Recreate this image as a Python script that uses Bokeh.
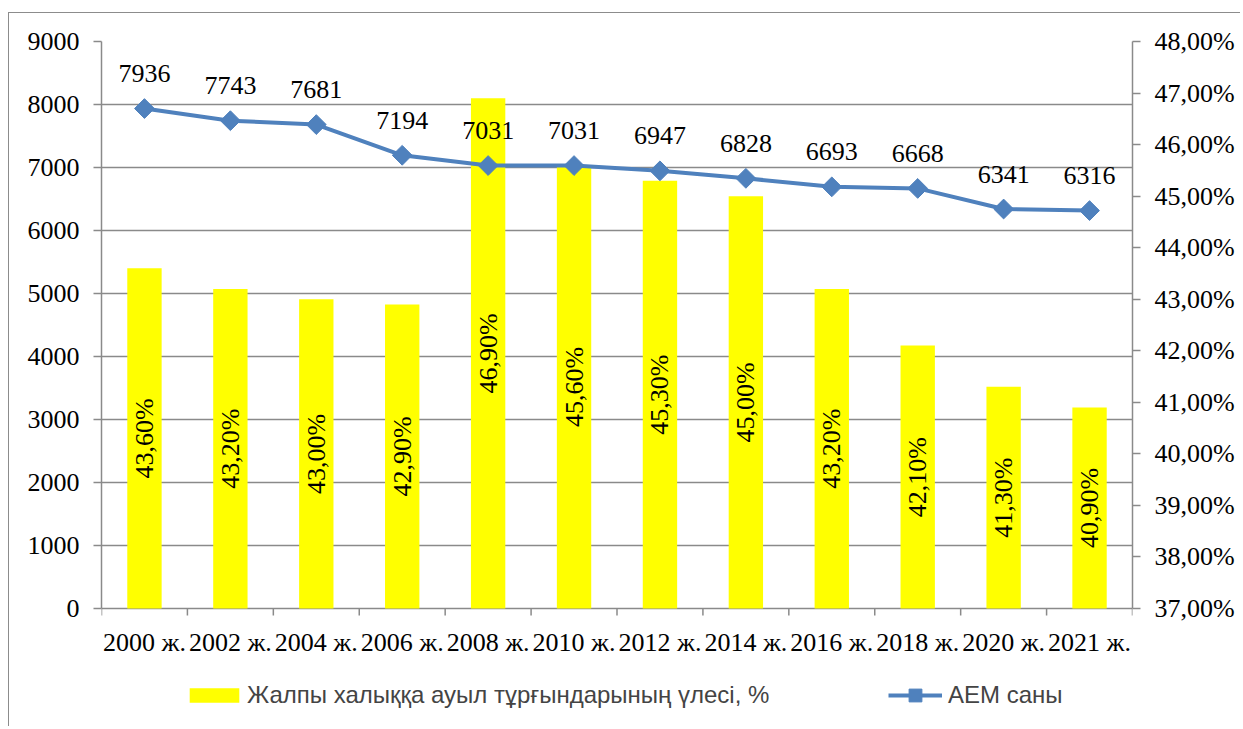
import math
from bokeh.plotting import figure
from bokeh.models import (Range1d, LinearAxis, FixedTicker, ColumnDataSource, LabelSet,
                          Legend, LegendItem)
from bokeh.core.properties import value
from bokeh.embed import file_html
from bokeh.resources import INLINE

categories = ["2000 ж.", "2002 ж.", "2004 ж.", "2006 ж.", "2008 ж.", "2010 ж.",
              "2012 ж.", "2014 ж.", "2016 ж.", "2018 ж.", "2020 ж.", "2021 ж."]
aem_count = [7936, 7743, 7681, 7194, 7031, 7031, 6947, 6828, 6693, 6668, 6341, 6316]
rural_share = [43.6, 43.2, 43.0, 42.9, 46.9, 45.6, 45.3, 45.0, 43.2, 42.1, 41.3, 40.9]
left_ticks = [0, 1000, 2000, 3000, 4000, 5000, 6000, 7000, 8000, 9000]
right_ticks = [37, 38, 39, 40, 41, 42, 43, 44, 45, 46, 47, 48]

bar_name = "Жалпы халыққа ауыл тұрғындарының үлесі, %"
line_name = "АЕМ саны"

SERIF = "Liberation Serif"
SANS = "Liberation Sans"
GRID = "#8a8a8a"
LINE = "#4F81BD"
FS = "26px"

# layout (canvas pixels)
W, H = 1232, 714
FRAME_LEFT, FRAME_RIGHT_GAP, FRAME_TOP = 92, 109, 28
ZERO_Y = 595            # canvas y of the value-axis zero line
plot_px = ZERO_Y - FRAME_TOP
below_px = H - ZERO_Y

n = len(categories)
xc = [i + 0.5 for i in range(n)]
bounds = [float(i) for i in range(n + 1)]
pct_base = right_ticks[0]

l_lo, l_hi = left_ticks[0], left_ticks[-1]
r_lo, r_hi = right_ticks[0], right_ticks[-1]
l_per_px = (l_hi - l_lo) / plot_px
r_per_px = (r_hi - r_lo) / plot_px

src = ColumnDataSource(dict(
    x=xc,
    aem=aem_count,
    aem_lbl=[str(v) for v in aem_count],
    share=rural_share,
    mid=[(pct_base + v) / 2 for v in rural_share],
    share_lbl=[f"{v:.2f}".replace(".", ",") + "%" for v in rural_share],
))
cat_src = ColumnDataSource(dict(x=xc, y=[l_lo] * n, lbl=categories))
tick_src = ColumnDataSource(dict(x=bounds, y0=[l_lo] * len(bounds),
                                 y1=[l_lo - 7 * l_per_px] * len(bounds)))

p = figure(width=W, height=H, output_backend="svg", toolbar_location=None,
           x_axis_location=None,
           x_range=Range1d(0, n), y_range=Range1d(l_lo - below_px * l_per_px, l_hi),
           min_border_left=FRAME_LEFT, min_border_right=FRAME_RIGHT_GAP,
           min_border_top=FRAME_TOP, min_border_bottom=0)
p.margin = (12, 0, 0, 8)
p.styles = {"border-left": "1px solid #8c8c8c", "border-top": "1px solid #8c8c8c"}
p.extra_y_ranges = {"pct": Range1d(r_lo - below_px * r_per_px, r_hi)}
p.outline_line_color = None
p.background_fill_color = "white"
p.border_fill_color = "white"
p.xgrid.visible = False

# left axis
ya = p.yaxis[0]
ya.ticker = FixedTicker(ticks=left_ticks)
ya.bounds = (l_lo, l_hi)
ya.major_tick_out = 8
ya.major_tick_in = 0
ya.minor_tick_line_color = None
ya.major_tick_line_color = GRID
ya.major_tick_line_width = 1.5
ya.axis_line_color = GRID
ya.axis_line_width = 1.5
ya.major_label_text_font = SERIF
ya.major_label_text_font_size = FS
ya.major_label_text_color = "black"
ya.major_label_standoff = 14
p.ygrid.ticker = FixedTicker(ticks=left_ticks)
p.ygrid.grid_line_color = GRID
p.ygrid.grid_line_width = 1.5

# right axis
ra = LinearAxis(y_range_name="pct", ticker=FixedTicker(ticks=right_ticks),
                bounds=(r_lo, r_hi),
                major_label_overrides={t: f"{t},00%" for t in right_ticks})
ra.major_tick_out = 8
ra.major_tick_in = 0
ra.minor_tick_line_color = None
ra.major_tick_line_color = GRID
ra.major_tick_line_width = 1.5
ra.axis_line_color = GRID
ra.axis_line_width = 1.5
ra.major_label_text_font = SERIF
ra.major_label_text_font_size = FS
ra.major_label_text_color = "black"
ra.major_label_standoff = 14
p.add_layout(ra, "right")

# category axis: tick marks at category boundaries and labels
p.segment(x0="x", y0="y0", x1="x", y1="y1", source=tick_src,
          line_color=GRID, line_width=1.5)
cat_labels = LabelSet(x="x", y="y", text="lbl", source=cat_src, y_offset=-34,
                      text_align="center", text_baseline="middle",
                      text_font=value(SERIF), text_font_size=value(FS),
                      text_color="black")
p.add_layout(cat_labels)

# bars (right axis)
bars = p.vbar(x="x", top="share", bottom=pct_base, width=0.4, source=src,
              y_range_name="pct", fill_color="#FFFF00", line_color=None)

# line (left axis)
line = p.line(x="x", y="aem", source=src, line_color=LINE, line_width=4)
marks = p.scatter(x="x", y="aem", source=src, marker="square", angle=math.pi / 4,
                  size=14, fill_color=LINE, line_color=LINE)

bar_labels = LabelSet(x="x", y="mid", text="share_lbl", source=src, y_range_name="pct",
                      angle=math.pi / 2, text_align="center", text_baseline="middle",
                      text_font=value(SERIF), text_font_size=value(FS),
                      text_color="black")
p.add_layout(bar_labels)

line_labels = LabelSet(x="x", y="aem", text="aem_lbl", source=src, y_offset=35,
                       text_align="center", text_baseline="middle",
                       text_font=value(SERIF), text_font_size=value(FS),
                       text_color="black")
p.add_layout(line_labels)

leg1 = Legend(items=[LegendItem(label=bar_name, renderers=[bars])],
              location=(82, 18), orientation="horizontal",
              glyph_width=62, glyph_height=18, label_standoff=2,
              padding=0, margin=0,
              border_line_color=None, background_fill_alpha=0,
              label_text_font=SANS, label_text_font_size="24px")
leg2 = Legend(items=[LegendItem(label=line_name, renderers=[line, marks])],
              location=(787, 16), orientation="horizontal",
              glyph_width=54, glyph_height=32, label_standoff=6,
              padding=0, margin=0,
              border_line_color=None, background_fill_alpha=0,
              label_text_font=SANS, label_text_font_size="24px")
p.add_layout(leg1)
p.add_layout(leg2)

open("out.html", "w").write(file_html(p, INLINE))
